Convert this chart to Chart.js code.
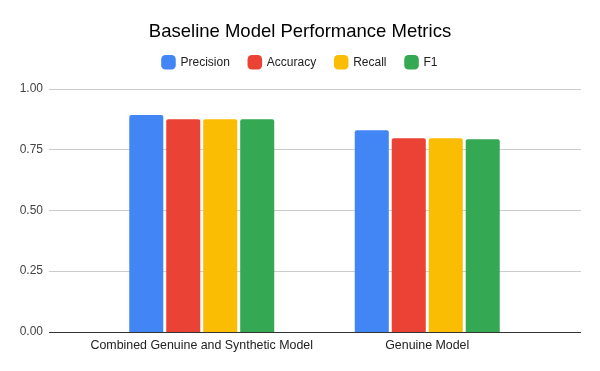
<!DOCTYPE html>
<html>
<head>
<meta charset="utf-8">
<script src="https://cdn.jsdelivr.net/npm/chart.js@4/dist/chart.umd.min.js"></script>
<style>
  html, body { margin: 0; padding: 0; background: #fff; }
  #wrap { width: 600px; height: 371px; }
</style>
</head>
<body>
<div id="wrap"><canvas id="chart"></canvas></div>
<script>
const categories = ['Combined Genuine and Synthetic Model', 'Genuine Model'];
const seriesNames = ['Precision', 'Accuracy', 'Recall', 'F1'];
const precision = [0.891, 0.829];
const accuracy = [0.874, 0.796];
const recall = [0.874, 0.796];
const f1 = [0.874, 0.792];
const yTicks = [0, 0.25, 0.5, 0.75, 1];
const colors = ['#4285F4', '#EA4335', '#FBBC04', '#34A853'];

const fontFamily = 'Arial, "Liberation Sans", sans-serif';

// grid lines run wider than the bar area, like the sheets chart
const wideGrid = {
    id: 'wideGrid',
    beforeDatasetsDraw(chart) {
        const ctx = chart.ctx;
        const y = chart.scales.y;
        const left = chart.chartArea.left - 40;
        const right = chart.chartArea.right + 41;
        ctx.save();
        yTicks.forEach(v => {
            const py = Math.round(y.getPixelForValue(v)) + 0.5;
            ctx.beginPath();
            ctx.strokeStyle = v === 0 ? '#333333' : '#cccccc';
            ctx.lineWidth = 1;
            ctx.moveTo(left, py);
            ctx.lineTo(right, py);
            ctx.stroke();
        });
        ctx.restore();
    }
};

// empty scale used only to reserve space
function spacer(position, size) {
    return {
        type: 'linear',
        position: position,
        afterFit(scale) {
            if (scale.isHorizontal()) scale.height = size; else scale.width = size;
            scale.paddingTop = scale.paddingBottom = scale.paddingLeft = scale.paddingRight = 0;
        },
        grid: { display: false, drawTicks: false },
        border: { display: false },
        ticks: { display: false }
    };
}

const seriesData = [precision, accuracy, recall, f1];

new Chart(document.getElementById('chart'), {
    type: 'bar',
    data: {
        labels: categories,
        datasets: seriesNames.map((name, i) => ({
            label: name,
            data: seriesData[i],
            backgroundColor: colors[i],
            borderRadius: 2,
            borderSkipped: 'bottom',
            categoryPercentage: 0.656,
            barPercentage: 0.92
        }))
    },
    options: {
        responsive: true,
        maintainAspectRatio: false,
        animation: false,
        layout: { padding: { left: 0, right: 0, top: 10, bottom: 0 } },
        plugins: {
            title: {
                display: true,
                text: 'Baseline Model Performance Metrics',
                color: '#000',
                font: { family: fontFamily, size: 18.5, weight: 'normal' },
                padding: { top: 11.2, bottom: -6.1 }
            },
            legend: {
                position: 'top',
                labels: {
                    color: '#222',
                    font: { family: fontFamily, size: 12 },
                    boxWidth: 12,
                    boxHeight: 12,
                    padding: 19,
                    usePointStyle: true,
                    pointStyle: 'rectRounded'
                }
            },
            tooltip: { enabled: false }
        },
        scales: {
            x: {
                afterFit(scale) { scale.height = 39; },
                grid: { display: false, drawTicks: false },
                border: { display: false },
                ticks: {
                    color: '#222',
                    font: { family: fontFamily, size: 12.4 },
                    padding: 6,
                    maxRotation: 0
                }
            },
            y: {
                min: 0,
                max: 1,
                afterFit(scale) {
                    scale.width = 89;
                    scale.paddingTop = scale.paddingBottom = 7;
                },
                afterBuildTicks(scale) { scale.ticks = yTicks.map(v => ({ value: v })); },
                grid: { display: false, drawTicks: false },
                border: { display: false },
                ticks: {
                    color: '#444',
                    font: { family: fontFamily, size: 12 },
                    padding: 46,
                    callback: v => v.toFixed(2)
                }
            },
            padRight: spacer('right', 60),
            padTop: spacer('top', 10.2)
        }
    },
    plugins: [wideGrid]
});
</script>
</body>
</html>
